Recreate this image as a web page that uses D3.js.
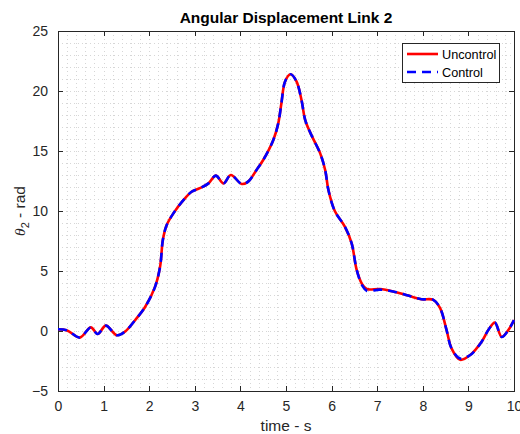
<!DOCTYPE html>
<html lang="en">
<head>
<meta charset="utf-8">
<title>Angular Displacement Link 2</title>
<script src="https://cdn.jsdelivr.net/npm/d3@7"></script>
<style>
  body { margin: 0; background: #fff; }
  .axis path, .axis line { stroke: #262626; shape-rendering: crispEdges; }
  .axis text { font-family: "Liberation Sans", Arial, sans-serif; font-size: 14px; fill: #262626; }
  .grid line { stroke: #d6d6d6; stroke-dasharray: 1,3; shape-rendering: crispEdges; }
</style>
</head>
<body>
<script>
// time (s) and theta_2 (rad)
var time = [0, 0.2, 0.48, 0.72, 0.87, 1.05, 1.29, 1.47, 1.69, 1.91, 2.13, 2.24, 2.30, 2.38, 2.53,
            2.75, 2.93, 3.11, 3.30, 3.46, 3.63, 3.79, 4.03, 4.17, 4.35, 4.50, 4.72, 4.83, 4.90, 4.98,
            5.10, 5.23, 5.34, 5.42, 5.56, 5.75, 5.86, 5.93, 6.07, 6.29, 6.44, 6.55, 6.67, 6.77, 7.06,
            7.35, 7.68, 7.97, 8.23, 8.38, 8.52, 8.63, 8.82, 9.04, 9.29, 9.44, 9.58, 9.73, 9.88, 10.0];
var uncontrol = [0.14, 0.05, -0.55, 0.3, -0.25, 0.45, -0.35, -0.05, 0.9, 2.0, 3.7, 5.4, 7.6, 8.8, 9.8,
            10.9, 11.6, 11.9, 12.3, 12.95, 12.3, 13.0, 12.25, 12.45, 13.4, 14.25, 15.9, 17.3, 19.0, 20.8,
            21.4, 20.8, 19.25, 17.6, 16.3, 14.8, 13.4, 11.75, 10.0, 8.7, 7.3, 5.1, 3.9, 3.5, 3.5,
            3.3, 2.95, 2.65, 2.6, 1.9, 0.1, -1.45, -2.4, -2.0, -0.9, 0.1, 0.7, -0.5, 0.1, 0.9];
var control = [0.14, 0.05, -0.55, 0.3, -0.25, 0.45, -0.35, -0.05, 0.9, 2.0, 3.7, 5.4, 7.6, 8.8, 9.8,
            10.9, 11.6, 11.9, 12.3, 12.95, 12.3, 13.0, 12.25, 12.45, 13.4, 14.25, 15.9, 17.3, 19.0, 20.8,
            21.4, 20.8, 19.25, 17.6, 16.3, 14.8, 13.4, 11.75, 10.0, 8.7, 7.3, 5.1, 3.8, 3.35, 3.45,
            3.3, 2.95, 2.65, 2.6, 1.9, 0.1, -1.45, -2.3, -2.0, -0.9, 0.1, 0.7, -0.5, 0.1, 0.9];
var xTicks = [0, 1, 2, 3, 4, 5, 6, 7, 8, 9, 10];
var yTicks = [-5, 0, 5, 10, 15, 20, 25];

var w = 520, h = 434;
var pLeft = 58, pRight = 514, pTop = 31, pBottom = 391;

var svg = d3.select("body").append("svg")
    .attr("width", w)
    .attr("height", h);

var xScale = d3.scaleLinear().domain([0, 10]).range([pLeft, pRight]);
var yScale = d3.scaleLinear().domain([-5, 25]).range([pBottom, pTop]);

// minor grid
svg.append("g").attr("class", "grid")
   .selectAll("line")
   .data(d3.range(1, 50).map(i => i * 0.2))
   .enter().append("line")
   .attr("x1", d => Math.round(xScale(d)) + 0.5)
   .attr("x2", d => Math.round(xScale(d)) + 0.5)
   .attr("y1", pTop).attr("y2", pBottom);
svg.append("g").attr("class", "grid")
   .selectAll("line")
   .data(d3.range(-4, 25, 1))
   .enter().append("line")
   .attr("y1", d => Math.round(yScale(d)) + 0.5)
   .attr("y2", d => Math.round(yScale(d)) + 0.5)
   .attr("x1", pLeft).attr("x2", pRight);

// axes (box with inward ticks)
var xAxis = d3.axisBottom(xScale).tickValues(xTicks).tickSizeInner(-5).tickSizeOuter(0).tickPadding(10);
var yAxis = d3.axisLeft(yScale).tickValues(yTicks).tickSizeInner(-5).tickSizeOuter(0).tickPadding(10);
svg.append("g").attr("class", "axis")
   .attr("transform", "translate(0," + pBottom + ")")
   .call(xAxis);
svg.append("g").attr("class", "axis")
   .attr("transform", "translate(" + pLeft + ",0)")
   .call(yAxis);
svg.append("g").attr("class", "axis")
   .attr("transform", "translate(0," + pTop + ")")
   .call(d3.axisTop(xScale).tickValues(xTicks).tickSizeInner(-5).tickSizeOuter(0).tickFormat(""));
svg.append("g").attr("class", "axis")
   .attr("transform", "translate(" + pRight + ",0)")
   .call(d3.axisRight(yScale).tickValues(yTicks).tickSizeInner(-5).tickSizeOuter(0).tickFormat(""));

// lines
var line = d3.line()
    .x(d => xScale(d[0]))
    .y(d => yScale(d[1]))
    .curve(d3.curveCatmullRom);

svg.append("path")
   .datum(d3.zip(time, uncontrol))
   .attr("d", line)
   .attr("fill", "none")
   .attr("stroke", "#ff0000")
   .attr("stroke-width", 2.6);
svg.append("path")
   .datum(d3.zip(time, control))
   .attr("d", line)
   .attr("fill", "none")
   .attr("stroke", "#0000ff")
   .attr("stroke-width", 2.6)
   .attr("stroke-dasharray", "9,6");

// title and labels
svg.append("text")
   .attr("x", (pLeft + pRight) / 2).attr("y", 23)
   .attr("text-anchor", "middle")
   .attr("font-family", "Liberation Sans, Arial, sans-serif")
   .attr("font-weight", "bold").attr("font-size", "15.5px")
   .attr("fill", "#000")
   .text("Angular Displacement Link 2");

svg.append("text")
   .attr("x", (pLeft + pRight) / 2).attr("y", 431)
   .attr("text-anchor", "middle")
   .attr("font-family", "Liberation Sans, Arial, sans-serif")
   .attr("font-size", "15.5px").attr("fill", "#262626")
   .text("time - s");

var ylab = svg.append("text")
   .attr("transform", "translate(25," + ((pTop + pBottom) / 2) + ") rotate(-90)")
   .attr("text-anchor", "middle")
   .attr("font-family", "Liberation Sans, Arial, sans-serif")
   .attr("font-size", "15.5px").attr("fill", "#262626");
ylab.append("tspan").attr("font-family", "Liberation Serif, serif").attr("font-style", "italic").text("θ");
ylab.append("tspan").attr("font-size", "11px").attr("dy", 4).text("2");
ylab.append("tspan").attr("dy", -4).text(" - rad");

// legend
var lg = svg.append("g");
lg.append("rect")
  .attr("x", 402.5).attr("y", 43.5).attr("width", 97).attr("height", 39)
  .attr("fill", "#fff").attr("stroke", "#262626").attr("stroke-width", 1);
var items = [["Uncontrol", "#ff0000", null], ["Control", "#0000ff", "9,6"]];
items.forEach(function(it, i) {
  var y = 54 + i * 18;
  lg.append("line")
    .attr("x1", 407).attr("x2", 438).attr("y1", y).attr("y2", y)
    .attr("stroke", it[1]).attr("stroke-width", 2.6)
    .attr("stroke-dasharray", it[2]);
  lg.append("text")
    .attr("x", 442).attr("y", y + 4.5)
    .attr("font-family", "Liberation Sans, Arial, sans-serif")
    .attr("font-size", "12.7px").attr("fill", "#000")
    .text(it[0]);
});
</script>
</body>
</html>
